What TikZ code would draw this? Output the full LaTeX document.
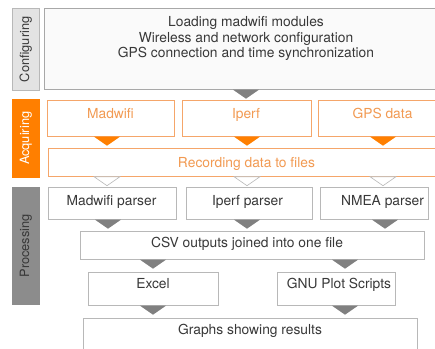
\documentclass[tikz,border=0pt]{standalone}
\usepackage{fontspec}
\setmainfont{TeX Gyre Heros}
\usetikzlibrary{calc}
\definecolor{orng}{HTML}{FF7F00}
\definecolor{lorng}{HTML}{F5A66A}
\definecolor{otxt}{HTML}{F29A52}
\definecolor{gtri}{HTML}{808080}
\definecolor{gbord}{HTML}{B8B8B8}
\definecolor{dbord}{HTML}{A8A8A8}
\definecolor{txtc}{HTML}{383838}
\definecolor{lablg}{HTML}{E3E3E3}
\definecolor{labdg}{HTML}{8C8C8C}
\newcommand\dtri[2]{\path[#2] ($(#1)+(-13,0)$) -- ($(#1)+(13,0)$) -- ($(#1)+(0,9)$) -- cycle;}
\begin{document}
\begin{tikzpicture}[x=1pt,y=-1pt,
  box/.style={draw=gbord, fill=white, line width=0.7pt, inner sep=0pt, anchor=north west},
  obox/.style={draw=lorng, fill=white, line width=0.7pt, inner sep=0pt, anchor=north west},
  labbox/.style={inner sep=0pt, anchor=north west, line width=0.7pt},
  txt/.style={text=txtc, inner sep=0pt, anchor=base, font=\fontsize{13.8}{16}\selectfont},
  otxtst/.style={text=otxt, inner sep=0pt, anchor=base, font=\fontsize{13.8}{16}\selectfont},
  vtxt/.style={inner sep=0pt, rotate=90, font=\fontsize{12.8}{15}\selectfont},
  otri/.style={fill=orng},
  gtrist/.style={fill=gtri},
  wtri/.style={draw=gbord, fill=white, line width=0.6pt}]
\useasboundingbox (0,0) rectangle (435,348);
\clip (0,0) rectangle (435,348);
% labels
\node[labbox, draw=gbord, fill=lablg, minimum width=27pt, minimum height=82pt] (cfglab) at (12,8) {};
\node[labbox, draw=orng, fill=orng, minimum width=27pt, minimum height=78pt] (acqlab) at (12,99) {};
\node[labbox, draw=labdg, fill=labdg, minimum width=27pt, minimum height=117pt] (proclab) at (12,187) {};
\node[vtxt, text=txtc] (cfglabt) at (cfglab.center) {Configuring};
\node[vtxt, text=white] (acqlabt) at (acqlab.center) {Acquiring};
\node[vtxt, text=txtc] (proclabt) at (proclab.center) {Processing};
% configuring
\node[box, draw=dbord, fill=black!2, minimum width=404pt, minimum height=81pt] (cfg) at (44,8) {};
\node[txt] (cfg1) at (246,26) {Loading madwifi modules};
\node[txt] (cfg2) at (246,42) {Wireless and network configuration};
\node[txt] (cfg3) at (246,57) {GPS connection and time synchronization};
% acquiring
\node[obox, minimum width=127pt, minimum height=36pt] (madwifi) at (47,100) {};
\node[obox, minimum width=129pt, minimum height=36pt] (iperf) at (182,100) {};
\node[obox, minimum width=140pt, minimum height=36pt] (gps) at (318,100) {};
\node[obox, minimum width=400pt, minimum height=28pt] (rec) at (48,148) {};
\node[otxtst] (madwifit) at (110.5,118) {Madwifi};
\node[otxtst] (iperft) at (246,118) {Iperf};
\node[otxtst] (gpst) at (382.5,118) {GPS data};
\node[otxtst] (rect) at (246.5,167) {Recording data to files};
% processing
\node[box, minimum width=128pt, minimum height=32pt] (mp) at (48,187) {};
\node[box, minimum width=126pt, minimum height=32pt] (ip) at (186,187) {};
\node[box, minimum width=108pt, minimum height=32pt] (np) at (320,187) {};
\node[box, minimum width=344pt, minimum height=28pt] (csv) at (80,231) {};
\node[box, minimum width=130pt, minimum height=33pt] (excel) at (88,272) {};
\node[box, minimum width=118pt, minimum height=33pt] (gnu) at (277,272) {};
\node[box, minimum width=334pt, minimum height=40pt] (graphs) at (83,318) {};
\node[txt] (mpt) at (111.5,205) {Madwifi parser};
\node[txt] (ipt) at (247.5,205) {Iperf parser};
\node[txt] (npt) at (382.5,205) {NMEA parser};
\node[txt] (csvt) at (247,247) {CSV outputs joined into one file};
\node[txt] (excelt) at (153,288) {Excel};
\node[txt] (gnut) at (339,288) {GNU Plot Scripts};
\node[txt] (graphst) at (250,334) {Graphs showing results};
% connector triangles
\coordinate (a0) at (246,0 |- cfg.south);
\coordinate (a1) at (107,0 |- madwifi.south);
\coordinate (a2) at (247,0 |- iperf.south);
\coordinate (a3) at (383,0 |- gps.south);
\coordinate (b1) at (107,0 |- rec.south);
\coordinate (b2) at (247,0 |- rec.south);
\coordinate (b3) at (383,0 |- rec.south);
\coordinate (c1) at (108,0 |- mp.south);
\coordinate (c2) at (247,0 |- ip.south);
\coordinate (c3) at (385,0 |- np.south);
\coordinate (d1) at (153,0 |- csv.south);
\coordinate (d2) at (345,0 |- csv.south);
\coordinate (e1) at (153,0 |- excel.south);
\coordinate (e2) at (345,0 |- gnu.south);
\dtri{a0}{gtrist}
\dtri{a1}{otri}
\dtri{a2}{otri}
\dtri{a3}{otri}
\dtri{b1}{wtri}
\dtri{b2}{wtri}
\dtri{b3}{wtri}
\dtri{c1}{gtrist}
\dtri{c2}{gtrist}
\dtri{c3}{gtrist}
\dtri{d1}{gtrist}
\dtri{d2}{gtrist}
\dtri{e1}{gtrist}
\dtri{e2}{gtrist}
\end{tikzpicture}
\end{document}
